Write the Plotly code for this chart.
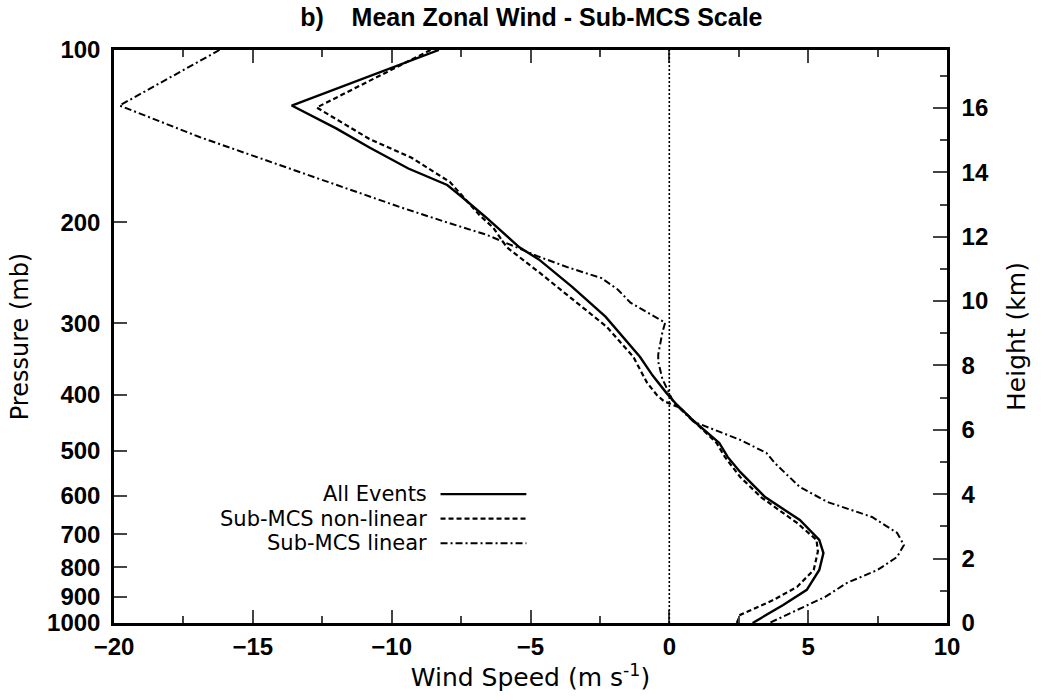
import plotly.graph_objects as go

# ---- data ----
P_ALL = [100, 125, 137, 148, 161, 172, 180, 196, 221, 232, 259, 292, 343, 370, 397, 416,
         445, 485, 513, 545, 603, 661, 716, 755, 808, 875, 930, 1000]
U_ALL = [-8.3, -13.6, -12.0, -10.8, -9.4, -8.0, -7.5, -6.6, -5.4, -4.7, -3.5, -2.3, -1.06, -0.6,
         -0.1, 0.27, 0.9, 1.8, 2.1, 2.55, 3.45, 4.7, 5.4, 5.55, 5.4, 4.95, 4.1, 3.0]

P_NL = [100, 126, 132, 143, 154, 162, 170, 181, 195, 204, 221, 245, 273, 304, 343, 381, 400,
        410, 421, 445, 485, 513, 556, 603, 669, 716, 750, 808, 865, 912, 968, 1000]
U_NL = [-8.6, -12.7, -12.0, -10.8, -9.3, -8.6, -7.9, -7.4, -6.8, -6.35, -5.85, -4.66, -3.47, -2.26,
        -1.3, -0.8, -0.45, -0.2, 0.38, 0.9, 1.7, 2.0, 2.55, 3.3, 4.6, 5.3, 5.35, 5.2, 4.6, 3.74,
        2.55, 2.43]

P_LIN = [100, 125, 142, 156, 171, 188, 200, 210, 222, 229, 240, 250, 262, 276, 299, 311, 340,
         350, 375, 397, 412, 445, 479, 505, 526, 579, 615, 653, 696, 731, 767, 808, 851, 901, 949, 1000]
U_LIN = [-16.2, -19.8, -16.9, -14.5, -12.1, -9.7, -8.0, -6.6, -5.4, -4.75, -3.6, -2.45, -1.85, -1.4,
         -0.15, -0.25, -0.4, -0.4, -0.25, 0.0, 0.15, 0.86, 2.55, 3.5, 3.8, 4.7, 5.7, 7.3, 8.2, 8.45,
         8.2, 7.5, 6.4, 5.6, 4.6, 3.6]

SERIES = ["All Events", "Sub-MCS non-linear", "Sub-MCS linear"]
X_TICKS = [-20, -15, -10, -5, 0, 5, 10]
P_TICKS = [100, 200, 300, 400, 500, 600, 700, 800, 900, 1000]
H_TICKS = [0, 2, 4, 6, 8, 10, 12, 14, 16]
H_MAX = 17.8

TICKFONT = "Liberation Sans, Arial, Helvetica, sans-serif"
TEXTFONT = "DejaVu Sans, Liberation Sans, Arial, sans-serif"
DASHES = ["solid", "5px,3px", "7px,3px,2px,3px"]
WIDTHS = [2.4, 2.2, 2.0]

fig = go.Figure()
for name, p, u, dash, w in zip(SERIES, [P_ALL, P_NL, P_LIN], [U_ALL, U_NL, U_LIN], DASHES, WIDTHS):
    fig.add_trace(go.Scatter(x=u, y=p, mode="lines", name=name,
                             line=dict(color="black", width=w, dash=dash), showlegend=False))

# dummy trace to anchor the height axis
fig.add_trace(go.Scatter(x=[None], y=[None], yaxis="y2", showlegend=False, hoverinfo="skip"))

# zero line
fig.add_shape(type="line", x0=0, x1=0, y0=0, y1=1, xref="x", yref="paper",
              line=dict(color="black", width=1.6, dash="2px,2px"))

# legend (gnuplot style: text right, sample line)
ys = [0.225, 0.182, 0.139]
for name, dash, w, yy in zip(SERIES, DASHES, WIDTHS, ys):
    fig.add_annotation(x=0.378, y=yy, xref="paper", yref="paper", text=name, showarrow=False,
                       xanchor="right", yanchor="middle",
                       font=dict(family=TEXTFONT, size=21, color="black"))
    fig.add_shape(type="line", x0=0.392, x1=0.495, y0=yy, y1=yy, xref="paper", yref="paper",
                  line=dict(color="black", width=w, dash=dash))

fig.update_layout(
    width=1048, height=700,
    margin=dict(l=114, r=101, t=50, b=77),
    paper_bgcolor="white", plot_bgcolor="white",
    font=dict(family=TICKFONT, size=22, color="black"),
    title=dict(text="b)    Mean Zonal Wind - Sub-MCS Scale", x=0.507, xanchor="center",
               y=0.975, yanchor="middle",
               font=dict(family=TICKFONT, size=25, color="black", weight="bold")),
    xaxis=dict(range=[-20, 10], tickvals=X_TICKS, ticks="inside", ticklen=13, tickwidth=2,
               showline=True, linewidth=2.5, linecolor="black", mirror="ticks",
               showgrid=False, zeroline=False,
               minor=dict(dtick=2.5, tick0=0, ticks="inside", ticklen=7, tickwidth=2, showgrid=False),
               tickfont=dict(family=TICKFONT, size=24, weight="bold"),
               title=dict(text="Wind Speed (m s<sup>-1</sup>)", standoff=2,
                          font=dict(family=TEXTFONT, size=25))),
    yaxis=dict(type="log", range=[3, 2], tickvals=P_TICKS, ticktext=[str(v) for v in P_TICKS],
               ticks="inside", ticklen=13, tickwidth=2, showline=True, linewidth=2.5,
               linecolor="black", showgrid=False, zeroline=False, ticklabelstandoff=6,
               tickfont=dict(family=TICKFONT, size=24, weight="bold"),
               title=dict(text="Pressure (mb)", standoff=12, font=dict(family=TEXTFONT, size=24))),
    yaxis2=dict(range=[0, H_MAX], tickvals=H_TICKS, overlaying="y", side="right", anchor="x",
                ticks="inside", ticklen=14, tickwidth=2, showline=True, linewidth=2.5,
                linecolor="black", showgrid=False, zeroline=False, ticklabelstandoff=7,
                minor=dict(dtick=1, ticks="inside", ticklen=7, tickwidth=2, showgrid=False),
                tickfont=dict(family=TICKFONT, size=24, weight="bold"),
                title=dict(text="Height (km)", standoff=20, font=dict(family=TEXTFONT, size=25))),
)

fig.write_html("out.html")
